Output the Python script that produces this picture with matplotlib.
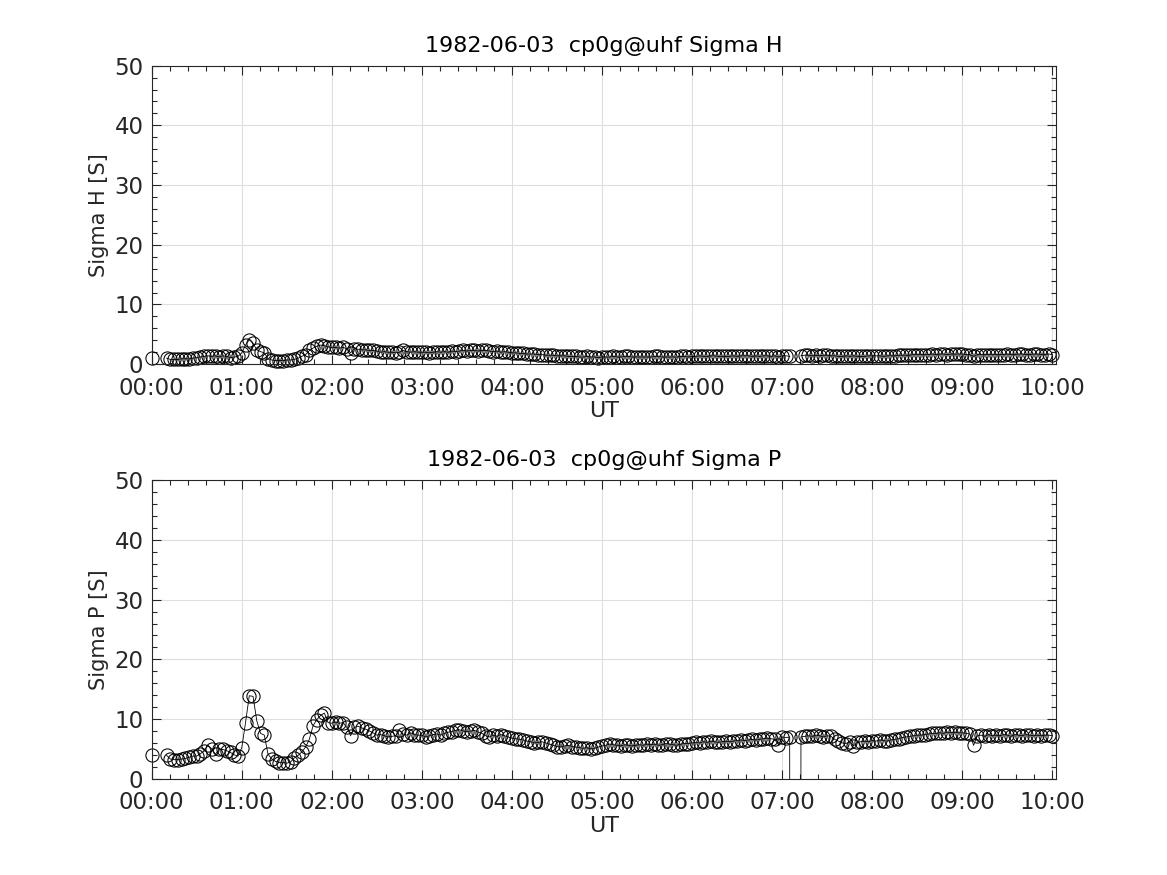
import numpy as np
import pandas as pd
import matplotlib
matplotlib.use("Agg")
import matplotlib.pyplot as plt
import matplotlib.dates as mdates
from matplotlib.ticker import MultipleLocator

nan = np.nan

# 2.5 minute samples, 1982-06-03 00:00 .. 10:00 UT
times = pd.date_range("1982-06-03 00:00", periods=241, freq="150s")

sigma_h = [
    # 00
    1.0, nan, nan, nan, 1.0, 0.8, 0.8, 0.8, 0.9, 0.9, 0.9, 1.0,
    1.1, 1.2, 1.3, 1.4, 1.3, 1.4, 1.2, 1.4, 1.3, 1.1, 1.2, 1.3,
    # 01
    1.9, 3.2, 4.1, 3.5, 2.4, 2.1, 1.9, 0.9, 0.7, 0.6, 0.6, 0.6,
    0.7, 0.7, 0.8, 1.0, 1.3, 1.6, 2.3, 2.7, 3.0, 3.2, 3.1, 2.9,
    # 02
    2.8, 2.8, 2.7, 2.8, 2.6, 1.9, 2.6, 2.5, 2.4, 2.4, 2.3, 2.3,
    2.2, 2.0, 2.1, 2.0, 2.0, 1.9, 2.0, 2.3, 2.1, 2.0, 2.1, 2.0,
    # 03
    2.0, 2.0, 1.9, 2.0, 2.1, 2.0, 2.1, 2.0, 2.2, 2.1, 2.2, 2.3,
    2.2, 2.3, 2.3, 2.2, 2.3, 2.3, 2.2, 2.1, 2.2, 2.0, 2.1, 2.0,
    # 04
    1.9, 1.9, 1.8, 1.8, 1.7, 1.7, 1.7, 1.6, 1.6, 1.5, 1.5, 1.5,
    1.4, 1.4, 1.4, 1.3, 1.3, 1.3, 1.2, 1.2, 1.3, 1.2, 1.2, 1.1,
    # 05
    1.2, 1.2, 1.2, 1.3, 1.2, 1.2, 1.3, 1.3, 1.2, 1.2, 1.2, 1.2,
    1.2, 1.2, 1.3, 1.3, 1.2, 1.2, 1.2, 1.2, 1.2, 1.3, 1.3, 1.2,
    # 06
    1.3, 1.3, 1.4, 1.3, 1.3, 1.4, 1.4, 1.3, 1.3, 1.3, 1.3, 1.4,
    1.3, 1.4, 1.4, 1.4, 1.3, 1.4, 1.3, 1.4, 1.4, 1.3, 1.4, 1.2,
    # 07
    1.4, 1.4, 1.3, nan, nan, 1.4, 1.5, 1.5, 1.4, 1.5, 1.4, 1.5,
    1.5, 1.4, 1.4, 1.3, 1.3, 1.4, 1.3, 1.4, 1.3, 1.3, 1.3, 1.4,
    # 08
    1.4, 1.4, 1.4, 1.3, 1.4, 1.4, 1.4, 1.5, 1.5, 1.5, 1.5, 1.6,
    1.6, 1.6, 1.6, 1.6, 1.7, 1.6, 1.7, 1.7, 1.6, 1.7, 1.7, 1.7,
    # 09 - 10
    1.7, 1.6, 1.6, 1.3, 1.6, 1.6, 1.6, 1.6, 1.6, 1.6, 1.6, 1.6,
    1.7, 1.6, 1.6, 1.7, 1.7, 1.6, 1.6, 1.7, 1.7, 1.6, 1.6, 1.7, 1.6,
]

sigma_p = [
    # 00
    3.9, nan, nan, nan, 3.9, 3.3, 3.2, 3.2, 3.3, 3.4, 3.6, 3.8,
    3.8, 4.2, 4.7, 5.6, 5.0, 4.1, 5.0, 4.9, 4.7, 4.4, 4.0, 3.8,
    # 01
    5.2, 9.4, 13.9, 13.8, 9.7, 7.6, 7.3, 4.1, 3.3, 2.9, 2.7, 2.7,
    2.6, 2.8, 3.5, 3.9, 4.5, 5.3, 6.6, 8.9, 9.9, 10.6, 11.0, 9.4,
    # 02
    9.3, 9.5, 9.3, 9.4, 8.6, 7.2, 8.6, 8.8, 8.5, 8.3, 8.0, 7.7,
    7.3, 7.4, 7.2, 7.0, 7.1, 7.2, 8.1, 7.5, 7.3, 7.7, 7.4, 7.3,
    # 03
    7.3, 7.0, 7.2, 7.4, 7.5, 7.3, 7.6, 7.8, 7.9, 8.1, 8.2, 8.0,
    7.9, 8.0, 8.1, 7.8, 7.6, 7.2, 7.0, 7.3, 7.1, 7.4, 7.2, 7.0,
    # 04
    6.8, 6.7, 6.6, 6.5, 6.3, 6.2, 6.0, 6.1, 6.2, 6.0, 5.8, 5.6,
    5.4, 5.3, 5.5, 5.6, 5.4, 5.3, 5.2, 5.1, 5.2, 5.0, 5.1, 5.3,
    # 05
    5.5, 5.6, 5.8, 5.7, 5.6, 5.5, 5.7, 5.6, 5.5, 5.6, 5.7, 5.6,
    5.8, 5.7, 5.8, 5.6, 5.7, 5.9, 5.8, 5.7, 5.6, 5.8, 5.9, 5.9,
    # 06
    6.0, 6.1, 6.0, 6.2, 6.1, 6.3, 6.2, 6.1, 6.2, 6.3, 6.2, 6.3,
    6.4, 6.5, 6.4, 6.5, 6.6, 6.5, 6.6, 6.7, 6.8, 6.7, 6.6, 5.7,
    # 07  (two bad samples far below zero)
    7.0, 6.9, 7.0, -900.0, -900.0, 7.0, 7.1, 7.2, 7.1, 7.3, 7.2, 7.0,
    7.2, 7.1, 6.6, 6.3, 6.0, 5.9, 6.2, 5.5, 6.1, 6.2, 6.3, 6.2,
    # 08
    6.4, 6.3, 6.5, 6.4, 6.3, 6.5, 6.6, 6.7, 6.9, 7.0, 7.1, 7.2,
    7.3, 7.3, 7.4, 7.5, 7.6, 7.6, 7.7, 7.6, 7.8, 7.7, 7.8, 7.7,
    # 09 - 10
    7.7, 7.6, 7.5, 5.6, 7.2, 7.3, 7.1, 7.4, 7.2, 7.3, 7.2, 7.4,
    7.3, 7.1, 7.4, 7.3, 7.2, 7.4, 7.3, 7.2, 7.3, 7.2, 7.3, 7.3, 7.2,
]

panels = [
    (sigma_h, "Sigma H [S]", "1982-06-03  cp0g@uhf Sigma H"),
    (sigma_p, "Sigma P [S]", "1982-06-03  cp0g@uhf Sigma P"),
]

txt = "#262626"
plt.rcParams["font.family"] = "DejaVu Sans"

fig = plt.figure(figsize=(11.67, 8.75), dpi=100)
boxes = [[0.13, 0.5838, 0.775, 0.3412], [0.13, 0.11, 0.775, 0.3412]]

for box, (vals, ylab, ttl) in zip(boxes, panels):
    ax = fig.add_axes(box)
    v = np.array(vals, dtype=float)
    # connecting line, clipped to the axes
    ax.plot(times, v, color="black", lw=0.6)
    # markers: like matlab, only drawn when the point is inside the limits,
    # but not cut at the axes edge
    inside = np.where((v >= 0) & (v <= 50), v, nan)
    ax.plot(times, inside, ls="none", marker="o", ms=9.5, mfc="none",
            mec="black", mew=0.75, clip_on=False)
    ax.set_ylim(0, 50)
    ax.set_xlim(times[0], times[-1] + pd.Timedelta(seconds=150))
    ax.yaxis.set_major_locator(MultipleLocator(10))
    ax.yaxis.set_minor_locator(MultipleLocator(2))
    ax.xaxis.set_major_locator(mdates.HourLocator())
    ax.xaxis.set_minor_locator(mdates.MinuteLocator(byminute=[12, 24, 36, 48]))
    ax.xaxis.set_major_formatter(mdates.DateFormatter("%H:%M"))
    ax.grid(True, which="major", color="#dedede", lw=0.8)
    ax.set_axisbelow(True)
    ax.tick_params(which="both", direction="in", top=True, right=True,
                   colors=txt, labelsize=16.5, width=0.8)
    ax.tick_params(which="major", length=6.5)
    ax.tick_params(which="minor", length=3.3)
    ax.tick_params(axis="x", which="major", pad=9)
    ax.tick_params(axis="y", which="major", pad=6)
    for s in ax.spines.values():
        s.set_color(txt)
        s.set_linewidth(0.8)
    ax.set_xlabel("UT", fontsize=16, color=txt, labelpad=1)
    ax.set_ylabel(ylab, fontsize=15, color=txt, labelpad=4)
    ax.set_title(ttl, fontsize=16, color="black", pad=10)

fig.savefig("out.png", dpi=100)
